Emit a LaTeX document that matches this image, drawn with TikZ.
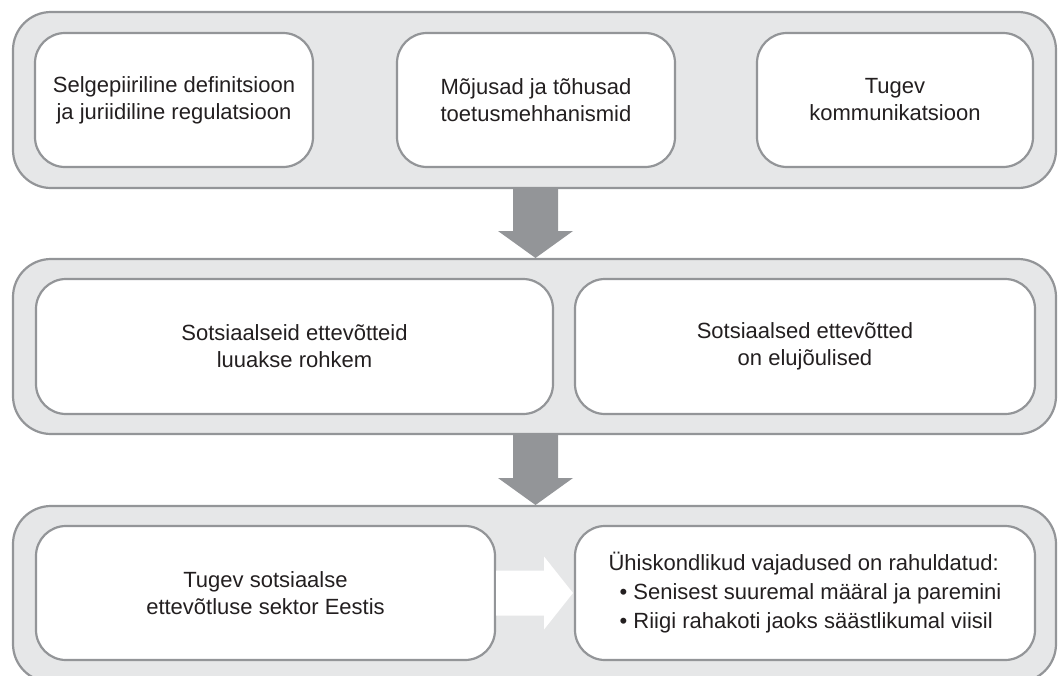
\documentclass[tikz,border=0pt]{standalone}
\usepackage{fontspec}
\setmainfont{Liberation Sans}
\usetikzlibrary{calc}
\definecolor{panelfill}{HTML}{E6E7E8}
\definecolor{edgegray}{HTML}{939598}
\definecolor{arrowgray}{HTML}{939598}
\definecolor{txt}{HTML}{231F20}
\begin{document}
\begin{tikzpicture}[x=1pt,y=-1pt,
  panel/.style={draw=edgegray, line width=2.2pt, fill=panelfill, rounded corners=38pt, outer sep=0pt, inner sep=0pt},
  card/.style={draw=edgegray, line width=2.2pt, fill=white, rounded corners=30pt, outer sep=0pt, inner sep=0pt, align=center, text=txt, font=\fontsize{22}{27}\selectfont},
  bigarrow/.style={fill=arrowgray},
  whitearrow/.style={fill=white}]
\clip (0,0) rectangle (1063,675);
\useasboundingbox (0,0) rectangle (1063,675);

% panels
\node[panel, minimum width=1043pt, minimum height=176pt] (p1) at (534.5,100) {};
\node[panel, minimum width=1043pt, minimum height=175pt] (p2) at (534.5,346.5) {};
\node[panel, minimum width=1043pt, minimum height=176pt] (p3) at (534.5,594) {};

% big arrows
\fill[bigarrow] ($(p1.south)+(-21.5,1)$) -- ($(p1.south)+(23.5,1)$) -- ($(p2.north)+(23.5,-28)$) -- ($(p2.north)+(38.5,-28)$) -- ($(p2.north)+(1,-1)$) -- ($(p2.north)+(-36.5,-28)$) -- ($(p2.north)+(-21.5,-28)$) -- cycle;
\fill[bigarrow] ($(p2.south)+(-21.5,1)$) -- ($(p2.south)+(23.5,1)$) -- ($(p3.north)+(23.5,-28)$) -- ($(p3.north)+(38.5,-28)$) -- ($(p3.north)+(1,-1)$) -- ($(p3.north)+(-36.5,-28)$) -- ($(p3.north)+(-21.5,-28)$) -- cycle;

% top row
\node[card, minimum width=278pt, minimum height=134pt] (a1) at (174,100) {Selgepiiriline definitsioon\\ja juriidiline regulatsioon};
\node[card, minimum width=278pt, minimum height=134pt] (a2) at (536,100) {Mõjusad ja tõhusad\\toetusmehhanismid};
\node[card, minimum width=276pt, minimum height=134pt] (a3) at (895,100) {Tugev\\kommunikatsioon};

% middle row
\node[card, minimum width=517pt, minimum height=135pt] (m1) at (294.5,346.5) {Sotsiaalseid ettevõtteid\\luuakse rohkem};
\node[card, minimum width=460pt, minimum height=135pt] (m2) at (805,346.5) {Sotsiaalsed ettevõtted\\on elujõulised};

% bottom row
\node[card, minimum width=459pt, minimum height=134pt] (l) at (265.5,593) {Tugev sotsiaalse\\ettevõtluse sektor Eestis};
\node[card, minimum width=460pt, minimum height=134pt, align=left, font=\fontsize{22}{29}\selectfont] (r) at (805,593) {Ühiskondlikud vajadused on rahuldatud:\\\hspace*{11pt}• Senisest suuremal määral ja paremini\\\hspace*{11pt}• Riigi rahakoti jaoks säästlikumal viisil};

% white arrow
\fill[whitearrow] ($(l.east)+(1.2,-22.5)$) -- ($(l.east)+(49,-22.5)$) -- ($(l.east)+(49,-36.5)$) -- ($(r.west)+(-2,0)$) -- ($(l.east)+(49,36.5)$) -- ($(l.east)+(49,22.5)$) -- ($(l.east)+(1.2,22.5)$) -- cycle;
\end{tikzpicture}
\end{document}
